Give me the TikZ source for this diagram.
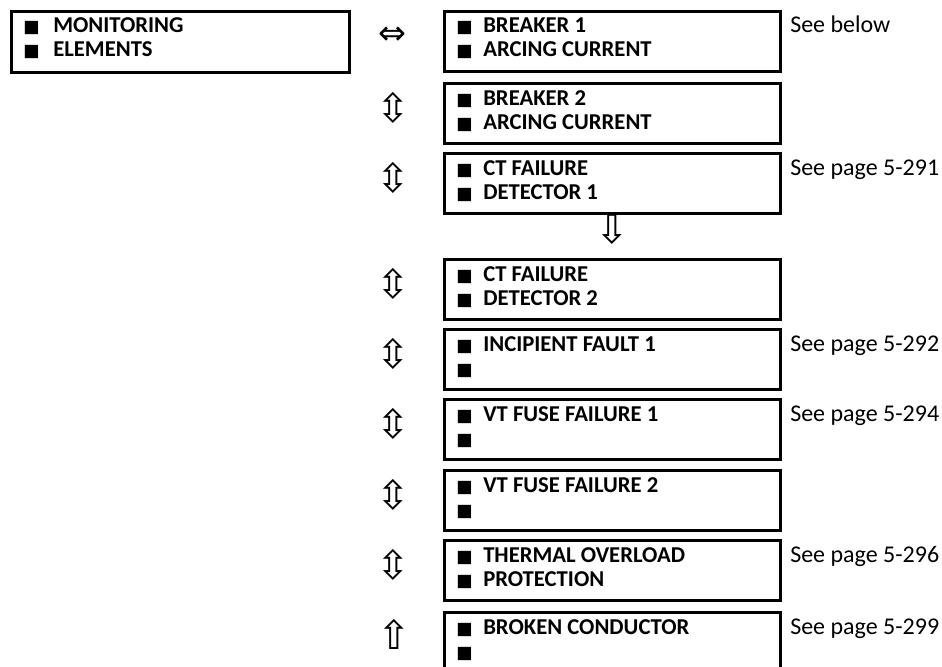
\documentclass[tikz,border=0pt]{standalone}
\usepackage{fontspec}
\setmainfont{Carlito}
\newfontfamily\symf{DejaVu Sans}
\newcommand{\sqb}{{\symf\fontsize{13}{13}\selectfont\char"25A0}}
\begin{document}
\begin{tikzpicture}[x=0.75pt,y=-0.75pt,
  menubox/.style={draw,line width=2.2pt,minimum width=252pt,minimum height=45pt,anchor=north west,inner sep=0pt},
  item/.style={anchor=base west,inner sep=0pt,font=\fontsize{17}{18}\selectfont\bfseries},
  bul/.style={anchor=base west,inner sep=0pt},
  note/.style={anchor=base west,inner sep=0pt,font=\fontsize{18}{18}\selectfont},
  arr/.style={inner sep=0pt,font=\symf\fontsize{30}{30}\selectfont},
  harr/.style={inner sep=0pt,font=\symf\fontsize{25}{25}\selectfont}]
\clip (0,0) rectangle (942,667);
% left box
\node[menubox,minimum width=253.5pt,minimum height=45.75pt] (root) at (10,10) {};
\node[bul] (rs1) at (23,33) {\sqb};
\node[bul] (rs2) at (23,57) {\sqb};
\node[item] (rt1) at (53,33) {MONITORING};
\node[item] (rt2) at (53,57) {ELEMENTS};
% right column
\foreach \n/\t/\a/\b/\s in {
  1/10/BREAKER 1/ARCING CURRENT/See below,
  2/82/BREAKER 2/ARCING CURRENT/,
  3/152/CT FAILURE/DETECTOR 1/See page 5-291,
  4/258/CT FAILURE/DETECTOR 2/,
  5/328/INCIPIENT FAULT 1//See page 5-292,
  6/398/VT FUSE FAILURE 1//See page 5-294,
  7/469/VT FUSE FAILURE 2//,
  8/539/THERMAL OVERLOAD/PROTECTION/See page 5-296,
  9/611/BROKEN CONDUCTOR//See page 5-299}{
  \node[menubox] (b\n) at (443,\t) {};
  \node[bul] (s\n a) at (456,\t+23) {\sqb};
  \node[bul] (s\n b) at (456,\t+47) {\sqb};
  \node[item] (t\n a) at (483,\t+23) {\a};
  \node[item] (t\n b) at (483,\t+47) {\b};
  \node[note] (n\n) at (790,\t+23) {\s};
}
% navigation arrows
\node[harr] (a1) at (392,36) {⇔};
\foreach \n/\t in {2/82,3/152,4/258,5/328,6/398,7/469,8/539}{
  \node[arr] (a\n) at (393,\t+26) {⇳};
}
\node[arr] (a9) at (394,634) {⇧};
\node[arr] (down) at (612,229) {⇩};
\end{tikzpicture}
\end{document}
